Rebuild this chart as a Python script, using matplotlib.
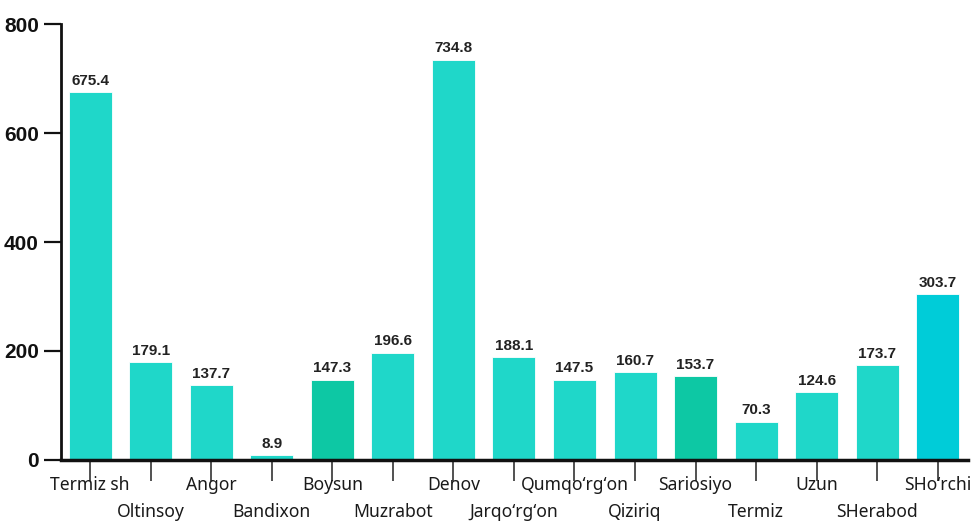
import matplotlib
matplotlib.use("Agg")
import matplotlib.pyplot as plt
from matplotlib import font_manager

categories = ["Termiz sh", "Oltinsoy", "Angor", "Bandixon", "Boysun", "Muzrabot",
              "Denov", "Jarqo\u2018rg\u2018on", "Qumqo\u2018rg\u2018on", "Qiziriq", "Sariosiyo",
              "Termiz", "Uzun", "SHerabod", "SHo\u2018rchi"]
values = [675.4, 179.1, 137.7, 8.9, 147.3, 196.6, 734.8, 188.1, 147.5, 160.7,
          153.7, 70.3, 124.6, 173.7, 303.7]
value_labels = ["675.4", "179.1", "137.7", "8.9", "147.3", "196.6", "734.8", "188.1",
                "147.5", "160.7", "153.7", "70.3", "124.6", "173.7", "303.7"]
y_ticks = [0, 200, 400, 600, 800]

base = "#1fd7c9"
colors = [base] * len(values)
colors[4] = "#0dc8a4"
colors[10] = "#0dc8a4"
colors[14] = "#00ccd8"

names = {f.name for f in font_manager.fontManager.ttflist}
narrow = "Liberation Sans Narrow" if "Liberation Sans Narrow" in names else "Liberation Sans"
label_font = "Noto Sans"

fig = plt.figure(figsize=(9.78, 5.23), dpi=100)
ax = fig.add_axes([0.0624, 0.1205, 0.9274, 0.8335])

x = list(range(len(values)))
bars = ax.bar(x, values, width=0.71, color=colors, edgecolor="white", linewidth=0.6)

for xi, v, lab in zip(x, values, value_labels):
    ax.text(xi, v + 8, lab, ha="center", va="bottom", fontsize=11,
            fontweight="bold", family=[narrow, "DejaVu Sans"], color="#222222")

ax.set_xlim(-0.48, 14.5)
ax.set_ylim(0, 800)
ax.set_yticks(y_ticks)
ax.set_yticklabels([str(t) for t in y_ticks], fontsize=15, fontweight="bold",
                   family=[narrow, "DejaVu Sans"], color="#111111")

ax.set_xticks(x)
ax.set_xticklabels([])
for xi, name in zip(x, categories):
    off = -0.036 if xi % 2 == 0 else -0.098
    ax.text(xi, off, name, transform=ax.get_xaxis_transform(), ha="center",
            va="top", fontsize=12.6, family=[label_font, "DejaVu Sans"], color="#1a1a1a")

ax.tick_params(axis="x", length=15, width=1.2, color="#333333", direction="out")
ax.tick_params(axis="y", length=12, width=1.6, color="#111111", direction="out", pad=4)

for s in ["top", "right"]:
    ax.spines[s].set_visible(False)
ax.spines["left"].set_linewidth(2)
ax.spines["bottom"].set_linewidth(2.5)
ax.spines["left"].set_color("#111111")
ax.spines["bottom"].set_color("#111111")

fig.savefig("out.png", dpi=100, facecolor="white")
